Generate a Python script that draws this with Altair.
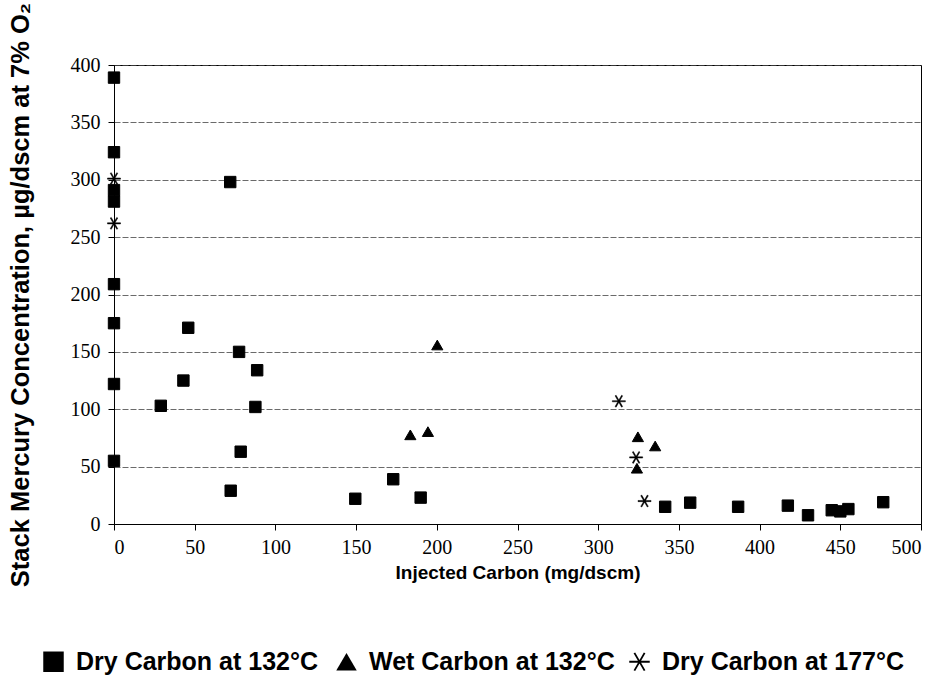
import altair as alt
import pandas as pd

series_names = ["Dry Carbon at 132°C", "Wet Carbon at 132°C", "Dry Carbon at 177°C"]

dry132_x = [0, 0, 0, 0, 0, 0, 0, 0, 72, 46, 77.5, 88.7, 43, 29, 87.6, 78.5, 72.3,
            149.5, 173, 190, 341.5, 357, 386.7, 417.5, 430, 444.7, 450, 455, 476.6]
dry132_y = [389, 324, 291, 281, 209, 175, 122, 55, 298, 171, 150, 134, 125, 103, 102, 63, 29,
            22, 39, 23, 15, 18.6, 15, 16, 7.6, 12, 11, 13, 19]

wet132_x = [200.3, 183.6, 194.5, 324.6, 335.3, 324]
wet132_y = [156, 77.7, 80.5, 76, 68, 48.6]

dry177_x = [0, 0, 312.8, 323.5, 328.7]
dry177_y = [301, 262, 107, 58, 20]

x_ticks = [0, 50, 100, 150, 200, 250, 300, 350, 400, 450, 500]
y_ticks = [0, 50, 100, 150, 200, 250, 300, 350, 400]

rows = []
for name, xs, ys in [(series_names[0], dry132_x, dry132_y),
                     (series_names[1], wet132_x, wet132_y),
                     (series_names[2], dry177_x, dry177_y)]:
    for xv, yv in zip(xs, ys):
        rows.append({"series": name, "x": xv, "y": yv})
df = pd.DataFrame(rows)

# asterisk drawn as three thin filled bars (same winding) so it shows in the legend too
asterisk = ("M-1,-0.09L1,-0.09L1,0.09L-1,0.09Z"
            "M-0.578,-0.821L-0.422,-0.911L0.578,0.821L0.422,0.911Z"
            "M-0.422,0.911L-0.578,0.821L0.422,-0.911L0.578,-0.821Z")
marker_sizes = [130, 125, 170]
marker_strokes = [1.0, 1.0, 0.5]

x_enc = alt.X("x:Q", scale=alt.Scale(domain=[0, 500], nice=False),
              axis=alt.Axis(values=x_ticks, title="Injected Carbon (mg/dscm)", grid=False,
                            format="d"))
y_enc = alt.Y("y:Q", scale=alt.Scale(domain=[0, 400], nice=False),
              axis=alt.Axis(values=y_ticks, title="Stack Mercury Concentration, µg/dscm at 7% O₂",
                            grid=True, format="d", titlePadding=37, labelPadding=8))
shape_enc = alt.Shape(
    "series:N",
    scale=alt.Scale(domain=series_names, range=["square", "triangle-up", asterisk]),
    legend=alt.Legend(title=None, orient="none", direction="horizontal",
                      legendX=-73, legendY=584, symbolSize=420,
                      symbolFillColor="black", symbolStrokeColor="black",
                      symbolStrokeWidth=1, labelFont="Liberation Sans",
                      labelFontWeight="bold", labelFontSize=25,
                      labelColor="black", labelLimit=400, labelOffset=10,
                      columnPadding=12, gridAlign="all"))

base = alt.Chart(df)
layers = []
for name, sz, sw in zip(series_names, marker_sizes, marker_strokes):
    layers.append(
        base.mark_point(filled=True, color="black", stroke="black", strokeWidth=sw,
                        opacity=1, size=sz)
        .encode(x=x_enc, y=y_enc, shape=shape_enc)
        .transform_filter(alt.datum.series == name)
    )

chart = alt.layer(*layers).properties(
    width=807, height=459,
    padding={"left": 7, "top": 2, "right": 10, "bottom": 2},
).configure_view(
    stroke="black", strokeWidth=1
).configure_axis(
    labelFont="Liberation Serif", labelFontSize=20, labelColor="black",
    titleFont="Liberation Sans", titleFontWeight="bold", titleColor="black",
    domainColor="black", domainWidth=1, tickColor="black", tickSize=6,
    gridColor="#444", gridDash=[6, 2], gridWidth=0.8,
).configure_axisX(
    titleFontSize=19, titlePadding=6, labelPadding=7
).configure_axisY(
    titleFontSize=25.5
)

chart.save("out.html", embed_options={"renderer": "svg", "actions": False})
